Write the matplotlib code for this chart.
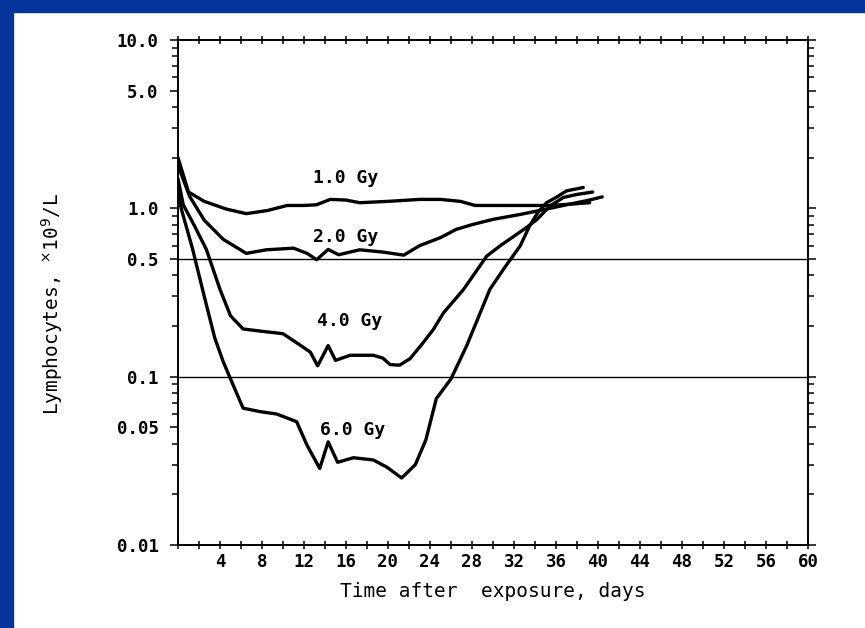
import numpy as np
import matplotlib.pyplot as plt
from matplotlib.patches import Rectangle
from matplotlib.ticker import FixedLocator, NullFormatter

# days after exposure / lymphocyte counts (x10^9/L)
days_1gy = [0, 1.0, 2.5, 4.6, 6.5, 8.5, 10.4, 12.0, 13.2, 14.5, 16.0, 17.3, 20.0, 23.0, 25.0, 26.9, 28.3, 31.0, 33.5, 35.4, 37.5, 39.2]
lym_1gy = [2.0, 1.25, 1.1, 0.99, 0.93, 0.97, 1.04, 1.04, 1.05, 1.13, 1.12, 1.08, 1.1, 1.13, 1.13, 1.10, 1.04, 1.04, 1.04, 1.04, 1.06, 1.08]

days_2gy = [0, 1.1, 2.5, 4.3, 6.5, 8.4, 11.0, 12.3, 13.2, 14.3, 15.3, 17.3, 19.5, 21.5, 23.0, 25.0, 26.5, 28.0, 30.0, 32.6, 35.1, 37.0, 39.2, 40.4]
lym_2gy = [1.8, 1.18, 0.85, 0.655, 0.54, 0.567, 0.58, 0.54, 0.495, 0.57, 0.53, 0.567, 0.55, 0.527, 0.6, 0.67, 0.75, 0.8, 0.86, 0.92, 0.99, 1.05, 1.12, 1.17]

days_4gy = [0, 0.5, 1.6, 2.7, 4.0, 5.0, 6.2, 8.0, 10.0, 11.9, 12.6, 13.3, 14.3, 15.0, 16.4, 18.6, 19.5, 20.2, 21.1, 22.1, 23.2, 24.3, 25.3, 27.2, 29.4, 30.7, 33.2, 34.2, 35.4, 36.7, 38.0, 39.5]
lym_4gy = [1.5, 1.05, 0.78, 0.57, 0.33, 0.23, 0.192, 0.186, 0.18, 0.15, 0.14, 0.116, 0.153, 0.125, 0.134, 0.134, 0.129, 0.118, 0.117, 0.128, 0.155, 0.19, 0.24, 0.33, 0.52, 0.60, 0.77, 0.86, 1.03, 1.16, 1.21, 1.25]

days_6gy = [0, 0.3, 1.4, 2.5, 3.5, 4.3, 5.0, 6.2, 7.8, 9.4, 11.3, 12.3, 13.5, 14.3, 15.2, 16.7, 18.6, 19.9, 21.3, 22.6, 23.6, 24.6, 26.0, 27.5, 29.7, 31.0, 32.6, 33.5, 34.3, 35.1, 36.0, 37.0, 38.6]
lym_6gy = [1.3, 1.0, 0.57, 0.3, 0.17, 0.123, 0.097, 0.065, 0.062, 0.060, 0.054, 0.039, 0.0285, 0.041, 0.031, 0.033, 0.032, 0.029, 0.025, 0.030, 0.042, 0.074, 0.097, 0.153, 0.33, 0.435, 0.60, 0.79, 0.95, 1.08, 1.16, 1.27, 1.33]

dose_labels = ['1.0 Gy', '2.0 Gy', '4.0 Gy', '6.0 Gy']
label_x = [16.0, 16.0, 16.3, 16.6]
label_y = [1.52, 0.68, 0.214, 0.048]

ytick_vals = [0.01, 0.05, 0.1, 0.5, 1.0, 5.0, 10.0]
ytick_text = ['0.01', '0.05', '0.1', '0.5', '1.0', '5.0', '10.0']
xtick_vals = list(range(4, 61, 4))
ref_lines = [0.5, 0.1]

mono = 'DejaVu Sans Mono'

fig = plt.figure(figsize=(8.65, 6.28), dpi=100)
ax = fig.add_axes([178 / 865, 1 - 545 / 628, 630 / 865, 505 / 628])

for d, v in [(days_1gy, lym_1gy), (days_2gy, lym_2gy), (days_4gy, lym_4gy), (days_6gy, lym_6gy)]:
    ax.plot(d, v, color='black', lw=2.4, solid_joinstyle='round', solid_capstyle='round')

for r in ref_lines:
    ax.axhline(r, color='black', lw=1.0)

for t, x, y in zip(dose_labels, label_x, label_y):
    ax.text(x, y, t, ha='center', va='center', fontsize=13, fontweight='bold', family=mono)

ax.set_yscale('log')
ax.set_xlim(0, 60)
ax.set_ylim(0.01, 10)

ax.xaxis.set_major_locator(FixedLocator(xtick_vals))
ax.xaxis.set_minor_locator(FixedLocator(range(0, 61, 2)))
ax.set_xticklabels([str(x) for x in xtick_vals])
ax.yaxis.set_major_locator(FixedLocator(ytick_vals))
ax.set_yticklabels(ytick_text)
minor_y = [m * 10.0 ** e for e in (-2, -1, 0) for m in range(2, 10)]
ax.yaxis.set_minor_locator(FixedLocator(minor_y))
ax.yaxis.set_minor_formatter(NullFormatter())

ax.tick_params(axis='both', which='both', top=True, right=True, width=1.1, color='black')
ax.tick_params(axis='x', which='both', direction='inout', length=6)
ax.tick_params(axis='y', which='major', direction='out', length=6)
ax.tick_params(axis='y', which='minor', direction='out', length=4)
ax.tick_params(axis='x', which='major', pad=3)
ax.tick_params(axis='y', which='major', pad=8)
for lab in ax.get_xticklabels() + ax.get_yticklabels():
    lab.set_family(mono)
    lab.set_fontweight('bold')
    lab.set_fontsize(12.5)

for s in ax.spines.values():
    s.set_linewidth(1.4)

ax.set_xlabel('Time after  exposure, days', family=mono, fontsize=14, labelpad=8)
fig.text(52 / 865, 1 - 304 / 628, 'Lymphocytes, $^{\\times}$10$^{9}$/L', rotation=90,
         ha='center', va='center', family=mono, fontsize=14)

# blue frame of the slide
fig.patches.append(Rectangle((0, 0), 13 / 865, 1, transform=fig.transFigure, color='#06349b', zorder=10))
fig.patches.append(Rectangle((0, 1 - 12 / 628), 1, 12 / 628, transform=fig.transFigure, color='#06349b', zorder=10))

fig.savefig('out.png', dpi=100)
